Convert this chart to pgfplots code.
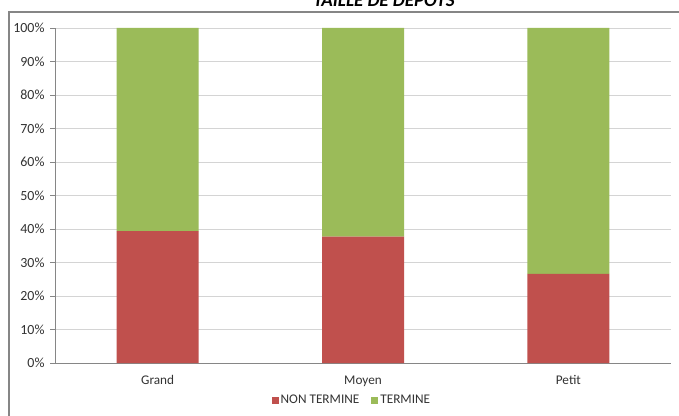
\documentclass[border=0pt]{standalone}
\usepackage{fontspec}
\setmainfont{Carlito}
\usepackage{pgfplots}
\pgfplotsset{compat=1.18}
\definecolor{redbar}{HTML}{C0504D}
\definecolor{greenbar}{HTML}{9BBB59}
\definecolor{axisgray}{HTML}{868686}
\definecolor{gridgray}{HTML}{D4D4D4}
\begin{document}
\begin{tikzpicture}[x=1bp,y=1bp]
\useasboundingbox (0,0) rectangle (679,415);
\fill[white] (0,0) rectangle (679,415);
\draw[axisgray, line width=1.2bp] (9,-20) -- (9,403) -- (700,403);
\node[font=\bfseries\itshape\fontsize{19}{20}\selectfont, anchor=base] at (384,408) {TAILLE DE DEPOTS};
\begin{axis}[
  at={(55bp,52bp)}, anchor=south west,
  scale only axis, width=616bp, height=335bp,
  ybar stacked, bar width=82bp,
  xmin=-0.5, xmax=2.5, ymin=0, ymax=100,
  xtick={0,1,2}, xticklabels={Grand,Moyen,Petit},
  major x tick style={draw=none},
  extra x ticks={-0.5,0.5,1.5,2.5}, extra x tick labels={},
  extra x tick style={grid=none, major tick length=5bp, tick style={axisgray, draw=axisgray}},
  ytick={0,10,...,100},
  yticklabels={0\%,10\%,20\%,30\%,40\%,50\%,60\%,70\%,80\%,90\%,100\%},
  tick align=outside, major tick length=5bp,
  tick style={axisgray},
  axis x line*=bottom, axis y line*=left,
  axis line style={axisgray, line width=0.8bp},
  ymajorgrids, grid style={gridgray, line width=0.8bp},
  ticklabel style={font=\fontsize{13.3}{15}\selectfont, text=black!80},
  yticklabel style={font=\fontsize{14}{15}\selectfont, xshift=-2bp},
  xticklabel style={yshift=-4bp},
  /pgf/number format/assume math mode=true,
  legend style={at={(0.482,-0.111)}, anchor=center, draw=none, fill=none,
    legend columns=2, font=\fontsize{13.3}{15}\selectfont, text=black!80,
    /tikz/every even column/.append style={column sep=10bp}},
  legend image code/.code={\fill[#1,draw=none] (0bp,-3.5bp) rectangle (7bp,3.5bp);},
]
\addplot[fill=redbar, draw=none] coordinates {(0,39.4) (1,37.7) (2,26.6)};
\addplot[fill=greenbar, draw=none] coordinates {(0,60.6) (1,62.3) (2,73.4)};
\legend{NON TERMINE, TERMINE}
\end{axis}
\end{tikzpicture}
\end{document}
